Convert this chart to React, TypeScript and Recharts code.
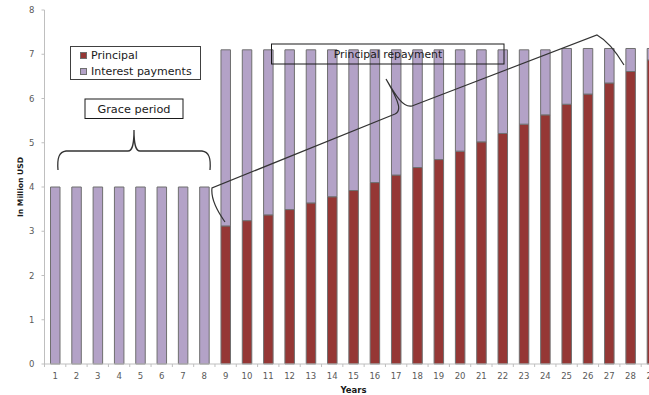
import { Bar, BarChart, Legend, XAxis, YAxis } from "recharts";

const years = [
  "1", "2", "3", "4", "5", "6", "7", "8", "9", "10", "11", "12", "13", "14", "15",
  "16", "17", "18", "19", "20", "21", "22", "23", "24", "25", "26", "27", "28", "29",
];
const principal = [
  0, 0, 0, 0, 0, 0, 0, 0, 3.12, 3.24, 3.37, 3.49, 3.64, 3.78, 3.92,
  4.1, 4.27, 4.44, 4.62, 4.81, 5.02, 5.21, 5.42, 5.63, 5.87, 6.1, 6.35, 6.61, 6.87,
];
const interest = [
  4, 4, 4, 4, 4, 4, 4, 4, 3.98, 3.86, 3.73, 3.61, 3.46, 3.32, 3.18,
  3.0, 2.83, 2.66, 2.48, 2.29, 2.08, 1.89, 1.68, 1.47, 1.26, 1.03, 0.78, 0.52, 0.26,
];
const seriesNames = ["Principal", "Interest payments"];
const yTicks = [0, 1, 2, 3, 4, 5, 6, 7, 8];

const data = years.map((year, i) => ({ year, principal: principal[i], interest: interest[i] }));

const FONT = "'DejaVu Sans', sans-serif";
const CHART_W = 662.5;
const Y_W = 44.5;
const STEP = (CHART_W - Y_W) / years.length;
const AXIS = "#bfbfbf";

function YearTick(props: any) {
  const { x, y, payload } = props;
  const axisY = y - 9;
  return (
    <g>
      <line x1={x - STEP / 2} x2={x - STEP / 2} y1={axisY} y2={axisY + 3} stroke={AXIS} />
      <text x={x} y={y} dy="0.71em" textAnchor="middle" fontSize={8.5} fontFamily={FONT} fill="#595959">
        {payload.value}
      </text>
    </g>
  );
}

function LegendBox({ payload }: any) {
  // keep the Excel order: Principal on top
  const items = [...(payload || [])].sort(
    (a: any, b: any) => seriesNames.indexOf(a.value) - seriesNames.indexOf(b.value)
  );
  return (
    <div
      style={{
        boxSizing: "border-box",
        width: 131,
        height: 34,
        border: "1px solid #404040",
        background: "#fff",
        paddingLeft: 9,
        fontFamily: FONT,
        fontSize: 11,
        color: "#1a1a1a",
      }}
    >
      {items.map((p: any) => (
        <div key={p.value} style={{ display: "flex", alignItems: "center", height: 16 }}>
          <span
            style={{
              display: "inline-block",
              width: 7,
              height: 7,
              background: p.color,
              border: "1px solid #6f6f6f",
              boxSizing: "border-box",
              marginRight: 4,
            }}
          />
          {p.value}
        </div>
      ))}
    </div>
  );
}

export default function App() {
  return (
    <div style={{ position: "fixed", left: 0, top: 0, width: 649, height: 395, overflow: "hidden", background: "#fff" }}>
      <BarChart width={CHART_W} height={395} data={data} margin={{ top: 10, right: 0, bottom: 0, left: 0 }}>
        <XAxis
          dataKey="year"
          height={31}
          interval={0}
          tickSize={0}
          tickMargin={9}
          tick={<YearTick />}
          axisLine={{ stroke: AXIS }}
          label={{ value: "Years", position: "insideBottom", offset: 2, fontSize: 8.5, fontWeight: "bold", fontFamily: FONT, fill: "#1a1a1a" }}
        />
        <YAxis
          width={Y_W}
          domain={[0, 8]}
          ticks={yTicks}
          interval={0}
          tickSize={3}
          tickMargin={7}
          tick={{ fontSize: 8.5, fontFamily: FONT, fill: "#595959" }}
          axisLine={{ stroke: AXIS }}
          tickLine={{ stroke: AXIS }}
          label={{
            value: "In Million USD",
            angle: -90,
            position: "insideLeft",
            offset: 20,
            style: { textAnchor: "middle" },
            fontSize: 7.6,
            fontWeight: "bold",
            fontFamily: FONT,
            fill: "#1a1a1a",
          }}
        />
        <Legend
          layout="vertical"
          align="center"
          verticalAlign="middle"
          wrapperStyle={{ left: 70, top: 46, width: 131, height: 34 }}
          content={<LegendBox />}
        />
        <Bar dataKey="principal" name="Principal" stackId="a" fill="#953735" stroke="#6f6f6f" strokeWidth={1} barSize={9.5} isAnimationActive={false} />
        <Bar dataKey="interest" name="Interest payments" stackId="a" fill="#b3a2c7" stroke="#6f6f6f" strokeWidth={1} barSize={9.5} isAnimationActive={false} />
      </BarChart>

      <svg width={649} height={395} style={{ position: "absolute", left: 0, top: 0, pointerEvents: "none" }}>
        {/* grace period */}
        <rect x={85} y={99} width={98} height={19.5} fill="#fff" stroke="#1a1a1a" strokeWidth={1} />
        <text x={134} y={109} dy="0.35em" textAnchor="middle" fontSize={11.3} fontFamily={FONT} fill="#1a1a1a">
          Grace period
        </text>
        <path
          d="M 58 170 C 57 158 59 152 66 151 L 128 151 C 132 151 134 146 134 130 C 134 146 136 151 140 151 L 202 151 C 209 152 211 158 210 170"
          fill="none"
          stroke="#333"
          strokeWidth={1.3}
        />
        {/* principal repayment */}
        <rect x={271.5} y={44} width={232.5} height={20} fill="none" stroke="#1a1a1a" strokeWidth={1} />
        <text x={388} y={54.5} dy="0.35em" textAnchor="middle" fontSize={10.8} fontFamily={FONT} fill="#1a1a1a">
          Principal repayment
        </text>
        <path
          d="M 225 222 C 215 208 211 196 212 188 L 395 114 C 401 111 401 105 386 79 C 396 96 403 108 412 106 L 597 35 C 606 40 615 50 624 65"
          fill="none"
          stroke="#333"
          strokeWidth={1.2}
        />
      </svg>
    </div>
  );
}
